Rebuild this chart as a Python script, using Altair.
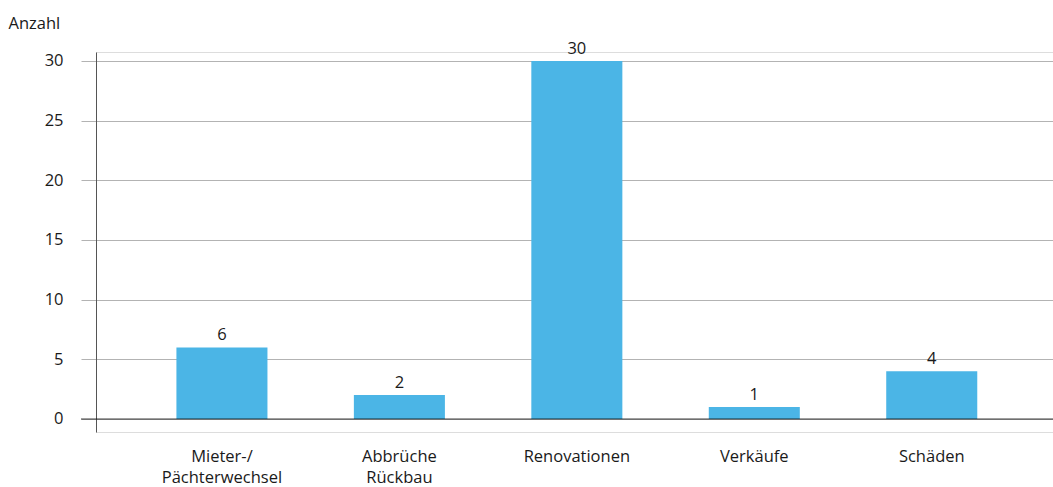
import altair as alt
import pandas as pd

# Bar categories (line breaks marked with "|") and their counts
categories = ["Mieter-/|Pächterwechsel", "Abbrüche|Rückbau", "Renovationen", "Verkäufe", "Schäden"]
counts = [6, 2, 30, 1, 4]
y_ticks = [0, 5, 10, 15, 20, 25, 30]

df = pd.DataFrame({"Kategorie": categories, "Anzahl": counts})
zero_df = pd.DataFrame({"y": [0]})

FONT = "Open Sans"
FS = 16.5
TEXT_COLOR = "#1a1a1a"
BAR_COLOR = "#4BB5E6"

x_enc = alt.X(
    "Kategorie:N",
    sort=categories,
    scale=alt.Scale(paddingInner=0.487, paddingOuter=0.44, align=0.515),
    axis=alt.Axis(
        title=None,
        labelAngle=0,
        labelExpr="split(datum.label, '|')",
        labelFont=FONT,
        labelFontSize=FS,
        labelColor=TEXT_COLOR,
        labelPadding=16,
        labelLineHeight=21,
        labelBaseline="top",
        ticks=False,
        domain=False,
    ),
)

y_scale = alt.Scale(domain=[-1.09, 30.75], nice=False, zero=False)

bars = alt.Chart(df).mark_bar(color=BAR_COLOR).encode(
    x=x_enc,
    y=alt.Y(
        "Anzahl:Q",
        scale=y_scale,
        axis=alt.Axis(
            title="Anzahl",
            titleAngle=0,
            titleAlign="left",
            titleBaseline="middle",
            titleX=-88,
            titleY=-29,
            titleFont=FONT,
            titleFontSize=FS,
            titleFontWeight="normal",
            titleColor=TEXT_COLOR,
            values=y_ticks,
            labelFont=FONT,
            labelFontSize=FS,
            labelColor=TEXT_COLOR,
            labelPadding=18,
            tickSize=15,
            tickColor="#b3b3b3",
            gridColor="#b3b3b3",
            grid=True,
            domainColor="#555555",
            domainWidth=1,
        ),
    ),
    y2=alt.datum(0),
)

value_labels = alt.Chart(df).mark_text(
    font=FONT, fontSize=FS, color=TEXT_COLOR, baseline="alphabetic", dy=-7
).encode(
    x=alt.X("Kategorie:N", sort=categories),
    y=alt.Y("Anzahl:Q", scale=y_scale),
    text="Anzahl:Q",
)

zero_line = alt.Chart(zero_df).mark_rule(color="#000000", opacity=0.5, strokeWidth=1.5).encode(
    y=alt.Y("y:Q", scale=y_scale),
    x=alt.value(-15),
    x2=alt.value(957),
)

chart = (
    alt.layer(bars, value_labels, zero_line)
    .properties(
        width=957,
        height=380,
        autosize=alt.AutoSizeParams(type="none"),
        padding={"left": 96, "top": 52, "right": 0, "bottom": 55},
    )
    .configure_view(strokeWidth=0)
    .configure(background="white")
)

chart.save("out.html", embed_options={"renderer": "svg", "actions": False})
